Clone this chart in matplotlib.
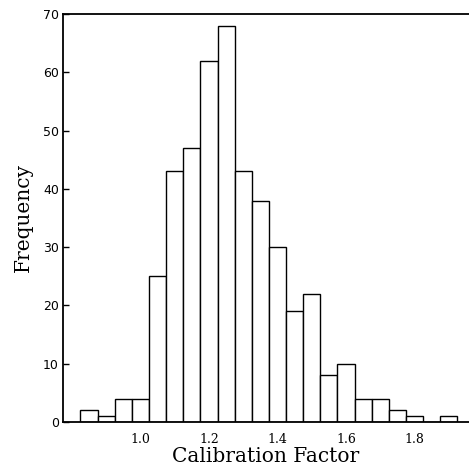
import numpy as np
import matplotlib
matplotlib.use('Agg')
import matplotlib.pyplot as plt

# histogram bin centers and counts
bin_centers = [0.85, 0.90, 0.95, 1.00, 1.05, 1.10, 1.15, 1.20, 1.25, 1.30, 1.35,
               1.40, 1.45, 1.50, 1.55, 1.60, 1.65, 1.70, 1.75, 1.80, 1.85, 1.90]
counts = [2, 1, 4, 4, 25, 43, 47, 62, 68, 43, 38,
          30, 19, 22, 8, 10, 4, 4, 2, 1, 0, 1]
bin_width = 0.05

xticks = [1.0, 1.2, 1.4, 1.6, 1.8]
yticks = [0, 10, 20, 30, 40, 50, 60, 70]

plt.rcParams['font.family'] = 'DejaVu Serif'

fig = plt.figure(figsize=(4.69, 4.67), dpi=100)
ax = fig.add_axes([63 / 469, 45 / 467, 1 - 63 / 469, (422 - 14) / 467])

ax.bar(bin_centers, counts, width=bin_width, color='white',
       edgecolor='black', linewidth=1.0)

ax.set_xlim(0.774, 1.959)
ax.set_ylim(0, 70)
ax.set_xticks(xticks)
ax.set_xticklabels(['%.1f' % t for t in xticks])
ax.set_yticks(yticks)
ax.tick_params(axis='y', direction='in', length=4, width=1, labelsize=9, pad=3)
ax.tick_params(axis='x', length=0, labelsize=9, pad=8)
for lab in ax.get_yticklabels():
    lab.set_family('DejaVu Sans')

ax.spines['right'].set_visible(False)
for s in ['left', 'top', 'bottom']:
    ax.spines[s].set_linewidth(1.3)

ax.set_xlabel('Calibration Factor', fontsize=14.5, labelpad=1)
ax.set_ylabel('Frequency', fontsize=14.5, labelpad=7)

fig.savefig('out.png', dpi=100)
